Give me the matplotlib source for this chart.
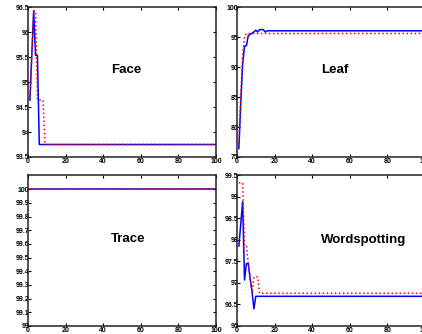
import matplotlib.pyplot as plt
import numpy as np

plt.rcParams['font.family'] = ['Liberation Sans', 'DejaVu Sans']

# iterations 1..100, only the first values change, then flat
n_iter = 100
x = np.arange(1, n_iter + 1)


def pad_flat(vals, n=n_iter):
    # repeat the last value till the end of the run
    return list(vals) + [vals[-1]] * (n - len(vals))


face_blue = pad_flat([94.64, 95.54, 96.43, 95.54, 95.54, 93.75])
face_red = pad_flat([94.64, 95.54, 96.43, 96.43, 94.64, 94.64, 94.64, 94.64, 93.75])

leaf_blue = pad_flat([76.4, 84.0, 90.5, 93.5, 93.6, 95.3, 95.5, 95.7, 95.9, 96.2,
                      95.9, 96.3, 96.3, 96.3, 95.9, 96.1])
leaf_red = pad_flat([77.2, 85.5, 92.0, 95.2, 95.65])

trace_blue = pad_flat([100.0])
trace_red = pad_flat([100.0])

word_blue = pad_flat([97.86, 98.37, 98.89, 97.07, 97.45, 97.45, 97.1, 96.8, 96.4, 96.69])
word_red = pad_flat([99.33, 99.33, 99.33, 97.85, 97.85, 97.45, 97.1, 96.78, 97.14,
                     97.14, 97.14, 96.76])

panels = [
    ("Face", face_blue, face_red, (93.5, 96.5), np.arange(93.5, 96.51, 0.5),
     ["93.5", "94", "94.5", "95", "95.5", "96", "96.5"], (0.52, 0.58)),
    ("Leaf", leaf_blue, leaf_red, (75, 100), np.arange(75, 101, 5),
     ["75", "80", "85", "90", "95", "100"], (0.52, 0.58)),
    ("Trace", trace_blue, trace_red, (99, 100.1), np.arange(99, 100.01, 0.1),
     ["99", "99.1", "99.2", "99.3", "99.4", "99.5", "99.6", "99.7", "99.8", "99.9", "100"],
     (0.53, 0.58)),
    ("Wordspotting", word_blue, word_red, (96, 99.5), np.arange(96, 99.51, 0.5),
     ["96", "96.5", "97", "97.5", "98", "98.5", "99", "99.5"], (0.675, 0.57)),
]

# axes boxes in figure fractions (right column runs off the picture)
boxes = [
    [0.0664, 0.530, 0.4455, 0.4476],
    [0.5616, 0.530, 0.4455, 0.4476],
    [0.0664, 0.024, 0.4455, 0.4506],
    [0.5616, 0.024, 0.4455, 0.4506],
]

fig = plt.figure(figsize=(4.22, 3.34), dpi=100)

for box, (name, yb, yr, ylim, yt, ytl, pos) in zip(boxes, panels):
    ax = fig.add_axes(box)
    ax.plot(x, yb, color='blue', lw=1.1)
    ax.plot(x, yr, color='red', lw=1.1, ls=':')
    ax.set_xlim(0, 100)
    ax.set_ylim(*ylim)
    ax.set_xticks(np.arange(0, 101, 20))
    ax.set_xticklabels([str(v) for v in range(0, 101, 20)])
    ax.set_yticks(yt)
    ax.set_yticklabels(ytl)
    ax.tick_params(direction='in', length=2, width=0.8, labelsize=5, pad=0.5,
                   top=True, right=True)
    ax.tick_params(axis='y', pad=-1)
    for lab in ax.get_xticklabels() + ax.get_yticklabels():
        lab.set_fontweight('bold')
    for sp in ax.spines.values():
        sp.set_linewidth(1.1)
        sp.set_color('#222222')
    ax.text(pos[0], pos[1], name, transform=ax.transAxes, ha='center', va='center',
            fontsize=9.5, fontweight='bold')

fig.savefig('out.png', dpi=100)
